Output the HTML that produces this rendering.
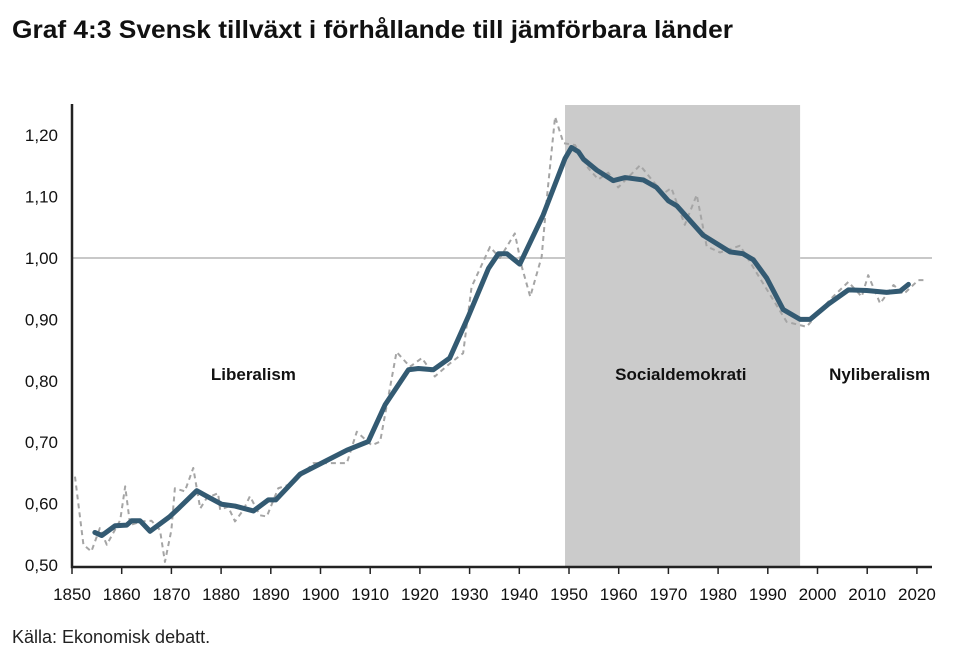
<!DOCTYPE html>
<html><head><meta charset="utf-8"><style>
body{margin:0;background:#fff;width:964px;height:666px;overflow:hidden;font-family:"Liberation Sans",sans-serif;}
</style></head><body>
<svg width="964" height="666" xmlns="http://www.w3.org/2000/svg">
<text x="12" y="38" textLength="721" lengthAdjust="spacingAndGlyphs" font-family="Liberation Sans, sans-serif" font-weight="bold" font-size="25" fill="#111">Graf 4:3 Svensk tillväxt i förhållande till jämförbara länder</text>
<g id="plot"></g>
<text x="12" y="643" font-family="Liberation Sans, sans-serif" font-size="18" fill="#222">Källa: Ekonomisk debatt.</text>
</svg>
<script>
const xTicks=[1850,1860,1870,1880,1890,1900,1910,1920,1930,1940,1950,1960,1970,1980,1990,2000,2010,2020];
const yTicks=[0.5,0.6,0.7,0.8,0.9,1.0,1.1,1.2];
const yTickLabels=["0,50","0,60","0,70","0,80","0,90","1,00","1,10","1,20"];
const periods=["Liberalism","Socialdemokrati","Nyliberalism"];
const shadeRange=[1949.2,1996.5];
const trendYears=[1854.6,1856,1858.7,1861,1862,1863.7,1865.7,1869.7,1871.4,1875.1,1877.1,1880.1,1882.8,1886.5,1889.5,1891,1895.9,1901.2,1905.3,1909.6,1913,1917.7,1919.7,1922.7,1926,1929.7,1933.8,1935.8,1937.5,1940.1,1944.8,1949.2,1950.5,1951.9,1952.9,1955.6,1958.9,1961.3,1965,1967.6,1970,1971.7,1977,1982.4,1985,1987.1,1989.8,1993.1,1996.5,1998.5,2002.2,2006.2,2009.9,2013.9,2016.6,2018.3];
const trendValues=[0.553,0.548,0.564,0.565,0.572,0.572,0.555,0.579,0.592,0.621,0.612,0.599,0.596,0.588,0.606,0.606,0.648,0.670,0.687,0.701,0.761,0.818,0.820,0.818,0.837,0.904,0.983,1.007,1.007,0.990,1.070,1.162,1.180,1.173,1.161,1.143,1.126,1.131,1.127,1.115,1.093,1.085,1.037,1.010,1.007,0.997,0.967,0.916,0.900,0.900,0.925,0.948,0.947,0.944,0.946,0.957];
const rawYears=[1850.6,1852.3,1853.9,1855.6,1857,1859.7,1860.7,1861.7,1864,1866,1867.7,1868.7,1870,1870.7,1872.7,1874.4,1875.8,1877.1,1879.4,1879.8,1881.4,1882.8,1884.5,1885.8,1887.8,1889.2,1891.5,1894.5,1898.6,1901.9,1905.3,1907.3,1910.3,1912,1915.3,1918,1920.4,1923,1926,1928.7,1930.4,1934.1,1936.1,1939.1,1940.5,1942.2,1944.5,1945.5,1947.2,1948.9,1951.2,1953.9,1955.9,1957.9,1959.9,1964.3,1966.3,1969,1970.6,1973.3,1975.7,1977.7,1980.4,1984.4,1993.8,1997.8,2002.5,2006.2,2008.9,2010.2,2012.6,2015.3,2017.3,2020.3,2022];
const rawValues=[0.644,0.533,0.522,0.560,0.533,0.573,0.628,0.565,0.571,0.572,0.557,0.505,0.557,0.625,0.620,0.658,0.592,0.609,0.617,0.590,0.595,0.571,0.590,0.612,0.581,0.579,0.625,0.633,0.666,0.666,0.666,0.717,0.695,0.701,0.847,0.823,0.837,0.807,0.828,0.845,0.953,1.018,1.000,1.040,0.986,0.937,1.002,1.094,1.230,1.187,1.184,1.146,1.128,1.139,1.115,1.151,1.131,1.105,1.114,1.054,1.103,1.019,1.009,1.020,0.896,0.888,0.932,0.961,0.937,0.972,0.926,0.956,0.941,0.964,0.964];

const NS="http://www.w3.org/2000/svg";
const g=document.getElementById('plot');
const X0=72,X1=932,Ytop=104,Ybot=567;
function x(yr){return 72+(yr-1850)*4.97;}
function y(v){return 258-(v-1.0)*614;}
function el(t,a){const e=document.createElementNS(NS,t);for(const k in a)e.setAttribute(k,a[k]);g.appendChild(e);return e;}

const sh=el('rect',{x:x(shadeRange[0]),y:Ytop+1,width:x(shadeRange[1])-x(shadeRange[0]),height:Ybot-Ytop-1,fill:'#cbcbcb'});


[[X0,x(shadeRange[0])],[x(shadeRange[1]),X1]].forEach(r=>{
 const l=el('line',{x1:r[0],x2:r[1],y1:y(1),y2:y(1),stroke:'#c8c8c8','stroke-width':2});
 
 
});
const fs='Liberation Sans, sans-serif';
yTicks.forEach((v,i)=>{
 const t=el('text',{x:58,y:y(v)+6,'text-anchor':'end','font-size':17,'font-family':fs,fill:'#111'});
 t.textContent=yTickLabels[i];
 
 
});
xTicks.forEach(yr=>{
 const tk=el('line',{x1:x(yr),x2:x(yr),y1:Ybot,y2:Ybot+7,stroke:'#222','stroke-width':1.5});
 
 
 const t=el('text',{x:x(yr),y:600,'text-anchor':'middle','font-size':17,'font-family':fs,fill:'#111'});
 t.textContent=yr;
 
 
});
const ax=el('path',{d:`M${X0},${Ytop} V${Ybot} H${X1}`,fill:'none',stroke:'#222','stroke-width':2.5});



const rp=el('polyline',{points:rawYears.map((yr,i)=>x(yr)+','+y(rawValues[i])).join(' '),fill:'none',stroke:'#a5a5a5','stroke-width':2,'stroke-dasharray':'5,4','stroke-linejoin':'round'});


const tp=el('polyline',{points:trendYears.map((yr,i)=>x(yr)+','+y(trendValues[i])).join(' '),fill:'none',stroke:'#335a72','stroke-width':5,'stroke-linejoin':'round','stroke-linecap':'round'});



const lp=[1886.5,1972.5,2012.5];
periods.forEach((p,i)=>{
 const t=el('text',{x:x(lp[i]),y:380,'text-anchor':'middle','font-size':17,'font-weight':'bold','font-family':fs,fill:'#111'});
 t.textContent=p;
 
 
});
</script>
</body></html>
